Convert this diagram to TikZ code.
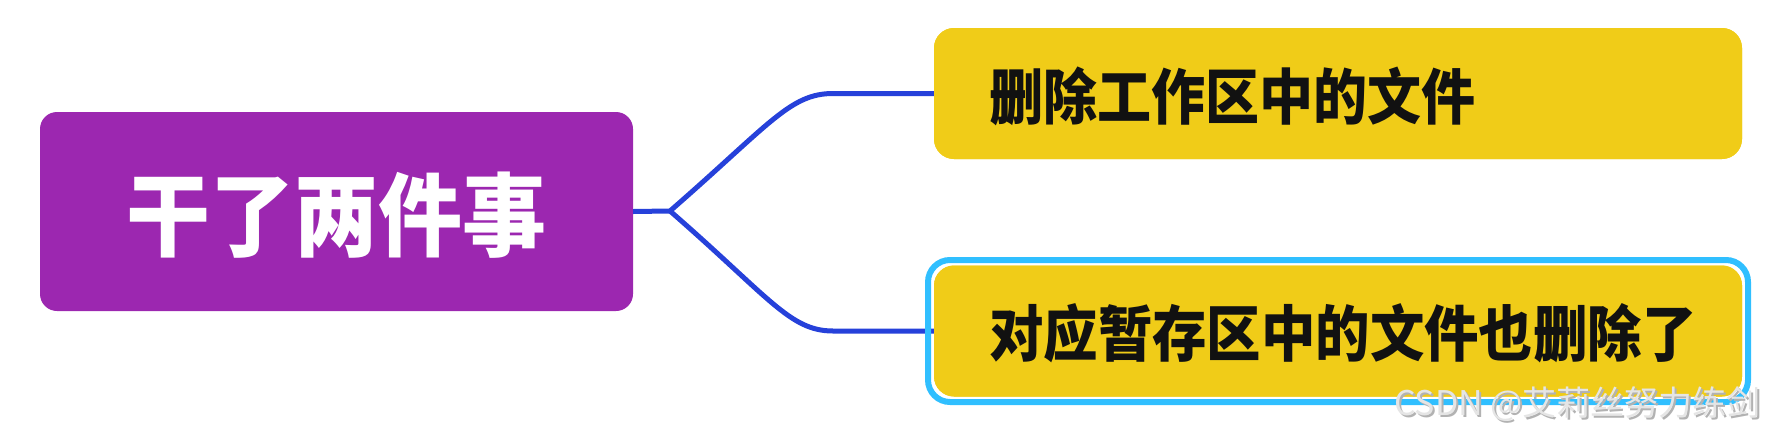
\documentclass[tikz,border=0pt]{standalone}
\usepackage{fontspec}
\usepackage{graphicx}
\newfontfamily\cjk{Noto Sans CJK SC}
\definecolor{rootpurple}{HTML}{9C27B0}
\definecolor{leafyellow}{HTML}{F0CC18}
\definecolor{linkblue}{HTML}{2641DA}
\definecolor{selcyan}{HTML}{30BFFF}
\definecolor{inkblack}{HTML}{111111}
\definecolor{wmgray}{HTML}{D4D4D4}
\begin{document}
\begin{tikzpicture}[x=1pt,y=-1pt,
  rootbox/.style={fill=rootpurple,rounded corners=17pt,minimum width=593pt,minimum height=199pt,inner sep=0pt},
  leafbox/.style={fill=leafyellow,rounded corners=20pt,minimum width=808pt,minimum height=131pt,inner sep=0pt},
  leaftext/.style={anchor=west,inner sep=0pt,text=inkblack,font=\cjk\bfseries},
  link/.style={draw=linkblue,line width=5pt},
  selbox/.style={draw=selcyan,line width=6pt,rounded corners=22pt}]
\useasboundingbox (0,0) rectangle (1776,434);
\node[rootbox] (root) at (336.5,211.5) {};
\node[inner sep=0pt,text=white,font=\cjk\bfseries] (roottext) at (336,215)
  {\scalebox{1}[1.08]{\fontsize{84}{84}\selectfont 干了两件事}};
\node[leafbox] (a) at (1338,93.5) {};
\node[leafbox] (b) at (1338,331) {};
\coordinate (J) at (670,211);
\coordinate (ua) at (833,93.5);
\coordinate (ub) at (833,331);
\draw[link] (root.east) -- (J);
\draw[link] (J) .. controls (770,124) and (790,93.5) .. (ua) -- (a.west);
\draw[link] (J) .. controls (770,298) and (790,331) .. (ub) -- (b.west);
\node[leafbox] at (a) {};
\node[leafbox] at (b) {};
\node[selbox,minimum width=820pt,minimum height=142pt] (sel) at (1338,331) {};
\node[leaftext] (atext) at (989,96)
  {\scalebox{1}[1.12]{\fontsize{54}{54}\selectfont 删除工作区中的文件}};
\node[leaftext] (btext) at (989,333)
  {\scalebox{1}[1.12]{\fontsize{54.4}{54.4}\selectfont 对应暂存区中的文件也删除了}};
\node[anchor=east,inner sep=0pt,text=gray!60,font=\cjk\fontsize{34}{34}\selectfont] (wmshadow) at (1763,406) {CSDN @艾莉丝努力练剑};
\node[anchor=east,inner sep=0pt,text=wmgray!60,font=\cjk\fontsize{34}{34}\selectfont] (wm) at (1761,404) {CSDN @艾莉丝努力练剑};
\end{tikzpicture}
\end{document}
